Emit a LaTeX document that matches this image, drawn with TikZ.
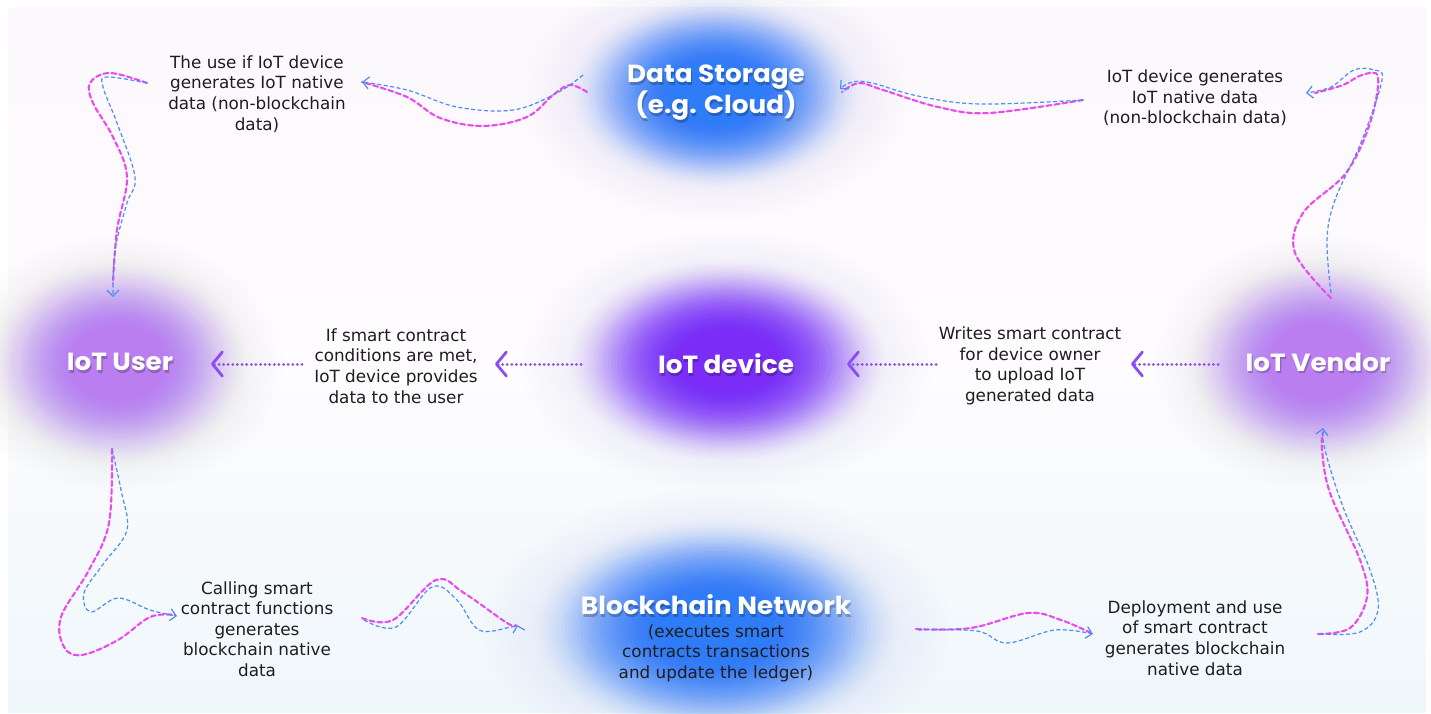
\documentclass[tikz,border=0pt]{standalone}
\usepackage{fontspec}
\setmainfont{DejaVu Sans}
\newfontfamily\titlefont{Poppins}[FakeStretch=1.06]
\usetikzlibrary{arrows.meta}
\definecolor{mag}{HTML}{E94BEF}
\definecolor{dblue}{HTML}{4C8CF5}
\definecolor{dotp}{HTML}{8B4CF6}
\definecolor{txt}{HTML}{1E1E1E}
\definecolor{gblue}{HTML}{2E7CF7}
\definecolor{gpurp}{HTML}{7B2CF7}
\definecolor{glav}{HTML}{BA7EF0}
\definecolor{bgtop}{HTML}{FCF8FD}
\definecolor{bgbot}{HTML}{EFF7FB}
\tikzset{
  titletext/.style={text=white, font=\titlefont\bfseries\fontsize{24.8}{31}\selectfont, align=center, inner sep=0pt},
  shadowtext/.style={text=black, opacity=0.22, font=\titlefont\bfseries\fontsize{24.8}{31}\selectfont, align=center, inner sep=0pt},
  desc/.style={text=txt, font=\fontsize{16.8}{20.6}\selectfont, align=center, inner sep=0pt},
  magline/.style={mag, line width=2.1pt, dash pattern=on 5pt off 3pt, line cap=round},
  blueline/.style={dblue, line width=1.2pt, dash pattern=on 4pt off 2.5pt, -{Straight Barb[length=6pt,width=12pt,line width=1.2pt]}},
  dotarrow/.style={dotp, line width=3pt, line cap=round, dash pattern=on 0.01pt off 4.6pt, -{Straight Barb[length=10pt,width=24pt,line width=2.8pt,round]}},
}
\newcommand\glowat[5]{\foreach \k in {1,...,48} {\fill[#1, opacity={#5*(1-\k/48)}] (#2) ellipse [x radius={(#3*\k/48)*1pt}, y radius={(#4*\k/48)*1pt}];}}
\begin{document}
\begin{tikzpicture}[x=1pt,y=-1pt]
\useasboundingbox (0,0) rectangle (1431,714);
\fill[white] (0,0) rectangle (1431,714);
\shade[top color=bgtop, bottom color=bgbot, middle color=white!60!bgtop] (8,8) rectangle (1426,712);
% wide faint halos
\glowat{gblue!60}{716,93}{205}{135}{0.035}
\glowat{gblue!60}{716,628}{250}{150}{0.035}
\glowat{gpurp!60}{727,361}{220}{140}{0.035}
\glowat{glav}{118,363}{180}{140}{0.03}
\glowat{glav}{1318,362}{180}{140}{0.03}
% glows
\glowat{gblue}{716,93}{148}{98}{0.2}
\glowat{gblue}{716,628}{186}{112}{0.2}
\glowat{gpurp}{727,361}{164}{104}{0.2}
\glowat{glav}{118,363}{134}{106}{0.16}
\glowat{glav}{1318,362}{134}{106}{0.16}
% title nodes
\node[shadowtext] (dsS) at (717.2,95.5) {Data Storage\\(e.g. Cloud)};
\node[titletext] (ds) at (716,93) {Data Storage\\(e.g. Cloud)};
\node[shadowtext] (userS) at (121.2,364.5) {IoT User};
\node[titletext] (user) at (120,362) {IoT User};
\node[shadowtext] (devS) at (727.2,366.5) {IoT device};
\node[titletext] (dev) at (726,364) {IoT device};
\node[shadowtext] (vendS) at (1319.2,364.5) {IoT Vendor};
\node[titletext] (vend) at (1318,362) {IoT Vendor};
\node[shadowtext] (bcS) at (717.2,607.5) {Blockchain Network};
\node[titletext] (bc) at (716,605) {Blockchain Network};
% descriptions
\node[desc] (bcs) at (716,653) {(executes smart\\contracts transactions\\and update the ledger)};
\node[desc] (tl) at (257,94) {The use if IoT device\\generates IoT native\\data (non-blockchain\\data)};
\node[desc] (tr) at (1195,98) {IoT device generates\\IoT native data\\(non-blockchain data)};
\node[desc] (ml) at (396,366) {If smart contract\\conditions are met,\\IoT device provides\\data to the user};
\node[desc] (mr) at (1030,366) {Writes smart contract\\for device owner\\to upload IoT\\generated data};
\node[desc] (bl) at (257,629) {Calling smart\\contract functions\\generates\\blockchain native\\data};
\node[desc] (br) at (1195,638) {Deployment and use\\of smart contract\\generates blockchain\\native data};
% connector end points
\coordinate (tlE) at (362,82);
\coordinate (tlW) at (147,83);
\coordinate (userN) at (113,297);
\coordinate (trW) at (1083,100);
\coordinate (dsE) at (840,89);
\coordinate (vendN) at (1331,298);
\coordinate (trE) at (1306,93);
\coordinate (userS2) at (112,449);
\coordinate (blW) at (177,616);
\coordinate (blE) at (362,618);
\coordinate (bcW) at (517,625);
\coordinate (bcE) at (916,629);
\coordinate (brW) at (1093,634);
\coordinate (brE) at (1320,634);
\coordinate (vendS2) at (1323,428);
% Data Storage -> top-left text
\draw[magline] plot[smooth, tension=0.6] coordinates {(587,92) (570,85) (553,95) (527,117) (483,126) (440,118) (407,97) (tlE)};
\draw[blueline] plot[smooth, tension=0.6] coordinates {(583,75) (557,93) (513,110) (457,107) (407,90) (tlE)};
% top-left text -> IoT User
\draw[magline] plot[smooth, tension=0.6] coordinates {(tlW) (110,73) (90,83) (93,103) (113,137) (127,177) (117,230) (113,283)};
\draw[blueline] plot[smooth, tension=0.6] coordinates {(tlW) (107,77) (103,87) (117,123) (135,177) (127,203) (115,250) (userN)};
% top-right text -> Data Storage
\draw[magline] plot[smooth, tension=0.6] coordinates {(trW) (989,113) (938,107) (883,90) (859,83) (842,92)};
\draw[blueline] plot[smooth, tension=0.6] coordinates {(trW) (980,104) (918,96) (872,83) (852,82) (dsE)};
% IoT Vendor -> top-right text
\draw[magline] plot[smooth, tension=0.6] coordinates {(vendN) (1295,253) (1303,213) (1346,173) (1370,123) (1378,77) (1362,75) (1343,85) (1315,93)};
\draw[blueline] plot[smooth, tension=0.6] coordinates {(1331,293) (1327,240) (1335,200) (1362,140) (1382,80) (1374,70) (1354,70) (1331,87) (trE)};
% IoT User -> bottom-left text
\draw[magline] plot[smooth, tension=0.6] coordinates {(userS2) (109,523) (89,570) (61,617) (64,647) (82,655) (118,640) (150,617) (175,615)};
\draw[blueline] plot[smooth, tension=0.6] coordinates {(userS2) (121,490) (127,530) (104,563) (84,593) (91,612) (118,598) (150,610) (blW)};
% bottom-left text -> Blockchain
\draw[magline] plot[smooth, tension=0.6] coordinates {(blE) (393,620) (436,580) (464,593) (507,623) (516,625)};
\draw[blueline] plot[smooth, tension=0.6] coordinates {(364,620) (396,627) (432,587) (457,600) (479,630) (511,627) (bcW)};
% Blockchain -> bottom-right text
\draw[magline] plot[smooth, tension=0.6] coordinates {(bcE) (971,628) (1028,613) (1061,620) (1091,633)};
\draw[blueline] plot[smooth, tension=0.6] coordinates {(918,630) (977,631) (1007,643) (1055,630) (brW)};
% bottom-right text -> IoT Vendor
\draw[magline] plot[smooth, tension=0.6] coordinates {(1318,634) (1350,628) (1367,597) (1360,560) (1330,493) (1322,450) (1323,432)};
\draw[blueline] plot[smooth, tension=0.6] coordinates {(brE) (1360,632) (1378,610) (1370,570) (1343,507) (1325,450) (vendS2)};
% dotted arrows
\coordinate (a1s) at (581,364); \coordinate (a1e) at (495,364);
\coordinate (a2s) at (302,364); \coordinate (a2e) at (211,364);
\coordinate (a3s) at (1218,364); \coordinate (a3e) at (1131,364);
\coordinate (a4s) at (936,364); \coordinate (a4e) at (847,364);
\draw[dotarrow] (a1s) -- (a1e);
\draw[dotarrow] (a2s) -- (a2e);
\draw[dotarrow] (a3s) -- (a3e);
\draw[dotarrow] (a4s) -- (a4e);
\end{tikzpicture}
\end{document}
